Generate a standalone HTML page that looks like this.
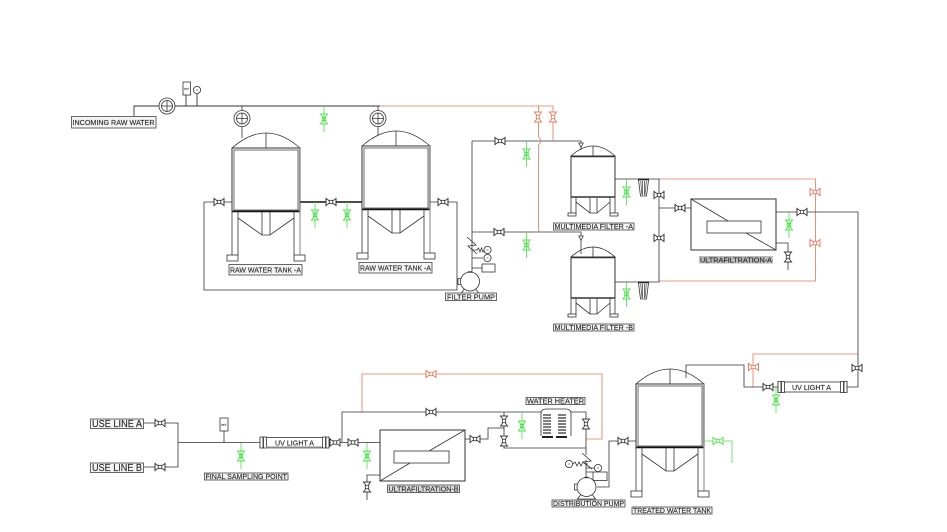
<!DOCTYPE html>
<html><head><meta charset="utf-8"><style>
html,body{margin:0;padding:0;background:#fff}
svg{display:block}
text{font-family:"Liberation Sans",sans-serif;font-size:7.6px;fill:#222;stroke:#444;stroke-width:.15}
.b{fill:#f4f4f4;stroke:#444;stroke-width:.8}
</style></head><body>
<svg width="947" height="532" viewBox="0 0 947 532" fill="none" stroke="#333" stroke-width=".8" xmlns="http://www.w3.org/2000/svg">
<defs>
<g id="v"><path d="M-5 -3.500L5 3.500V-3.500L-5 3.500Z" fill="#fff"/><path d="M-5 -4.200V4.200M5 -4.200V4.200"/><rect x="-1.700" y="-1.700" width="3.400" height="3.400" fill="#fff"/></g>
<g id="vv"><path d="M-3.500 -5L3.500 5H-3.500L3.500 -5Z" fill="#fff"/><path d="M-4.200 -5H4.200M-4.200 5H4.200"/><rect x="-1.700" y="-1.700" width="3.400" height="3.400" fill="#fff"/></g>
<g id="gv"><path d="M0 -13V13"/><path d="M-3.500 -5L3.500 5H-3.500L3.500 -5Z"/><path d="M-4.200 -5H4.200M-4.200 5H4.200"/><rect x="-1.800" y="-1.800" width="3.600" height="3.600"/></g>
<g id="fm"><circle r="8" fill="#fff"/><circle r="5.500"/><path d="M-5.500 0H5.500M0 -5.500V5.500"/></g>
<g id="tank">
<path d="M0 0Q34 -30 68 0"/><path d="M34 -15V0"/>
<rect x="0" y="0" width="68" height="63" fill="#fff" stroke-width="1"/>
<rect x="2" y="2" width="64" height="60" stroke-width=".7"/>
<path d="M67.500 0V63" stroke="#999" stroke-width="1.400"/>
<path d="M0 63.500H68" stroke-width="1.500" stroke="#111"/>
<path d="M0 63V107M6 63V107M62 63V107M68 63V107"/>
<path d="M68 63V107" stroke="#999" stroke-width="1.200"/>
<rect x="-5" y="107" width="11" height="6"/><rect x="62" y="107" width="11" height="6"/>
<path d="M6 70L30 87H38L62 70M30 64V87M38 64V87"/>
</g>
<g id="filter">
<path d="M0 0Q22 -20 44 0"/><path d="M22 -10V0"/>
<rect x="0" y="0" width="44" height="41" fill="#fff" stroke-width="1"/>
<path d="M0 .5H44M0 41H44" stroke-width="1.500"/>
<path d="M0 41V57M5 41V57M39 41V57M44 41V57"/>
<rect x="-3" y="57" width="8" height="3"/><rect x="39" y="57" width="8" height="3"/>
<path d="M5 46L19 57H26L39 46M19 42V57M26 42V57"/>
</g>
<g id="cart"><path d="M-5.500 1.500H5.500" stroke-width="2" stroke="#222"/><path d="M-5 2L-3 18H3L5 2Z" fill="#fff"/><path d="M-2.800 3L-1.500 17M-1 3V17M1 3V17M2.800 3L1.500 17" stroke="#555"/></g>
<g id="pump"><circle r="9.500" fill="#fff"/><path d="M-9.500 -3H-12V3H-9.500"/><path d="M-6 8L-9 12H9L6 8"/><path d="M-2 -9.500H2" stroke-width="1.400"/></g>
<g id="uv"><rect x="0" y="0" width="69" height="10" fill="#fff"/><rect x="0" y="-.5" width="3" height="11" fill="#fff"/><rect x="3.500" y="-.5" width="3" height="11" fill="#fff"/><rect x="62.500" y="-.5" width="3" height="11" fill="#fff"/><rect x="66" y="-.5" width="3" height="11" fill="#fff"/></g>
<g id="gauge"><circle r="3.600" fill="#fff"/><path d="M-1 0H1" stroke-width=".6"/></g>
</defs>

<!-- top incoming -->
<path d="M134 116V106H380M186 95V106M197 94V106" stroke-width=".9"/>
<path d="M242 106V138M378 106V135"/>
<rect x="183" y="82" width="7.500" height="13" fill="#fff"/>
<text x="184.300" y="90" style="font-size:3px">PIT</text>
<use href="#gauge" x="197" y="90"/>
<use href="#fm" x="167" y="106"/><use href="#fm" x="242" y="118.500"/><use href="#fm" x="378" y="118.500"/>
<rect class="b" x="71.500" y="116.500" width="84.500" height="11.500"/>
<text x="72.500" y="124.800" textLength="82" lengthAdjust="spacingAndGlyphs">INCOMING RAW WATER</text>

<!-- tanks -->
<path d="M204 202H232M204 202V290H457V202H430M472 141V272M472 141H581V150M472 232H581V254" />
<path d="M300 202H362" stroke-width="1.500" stroke="#111"/>
<path d="M578.800 143H583.200L581 147.500Z M578.800 236H583.200L581 240.500Z" fill="#fff"/>
<use href="#tank" x="232" y="148"/><use href="#tank" x="362" y="146"/>
<use href="#v" x="219" y="202"/><use href="#v" x="331" y="202"/><use href="#v" x="443" y="202"/>
<use href="#v" x="500" y="141"/><use href="#v" x="499" y="232"/>
<rect class="b" x="229" y="264.500" width="73" height="10.500"/>
<text x="230" y="272.500" textLength="71" lengthAdjust="spacingAndGlyphs">RAW WATER TANK -A</text>
<rect class="b" x="359" y="262.500" width="73" height="10.500"/>
<text x="360" y="270.500" textLength="71" lengthAdjust="spacingAndGlyphs">RAW WATER TANK -A</text>

<!-- filter pump -->
<path d="M467 237L476 245L468 246L477 254M472 250H477l1.500-2 1.500 4 1.500-4 1.500 4 1.500-2M472 258H483M472 268H482" />
<use href="#gauge" x="487.500" y="250"/><use href="#gauge" x="487.500" y="258"/>
<rect x="482" y="264" width="13" height="8" fill="#fff"/>
<use href="#pump" x="470" y="281.500"/>
<rect class="b" x="445.500" y="293" width="51" height="7.500"/>
<text x="447" y="299.500" textLength="48" lengthAdjust="spacingAndGlyphs">FILTER PUMP</text>

<!-- orange top -->
<g stroke="#e8765a">
<path d="M380 106H553V141M538.500 106V137Q543 141 538.500 145V232"/>
<use href="#v" transform="translate(538,117) rotate(90)"/>
<use href="#v" transform="translate(553,117) rotate(90)"/>
<path d="M659 179H815.500V281H659"/>
<use href="#v" x="815" y="192"/><use href="#v" x="815" y="243"/>
<path d="M362 412V374H602V439H586"/>
<use href="#v" x="431" y="374"/>
<path d="M753 387V354H858"/>
<use href="#v" x="753.500" y="367"/>
</g>

<!-- filters -->
<use href="#filter" x="571" y="156"/><use href="#filter" x="571" y="257"/>
<path d="M615 179H659V282H615M659 208H691"/>
<use href="#cart" x="643.500" y="178"/><use href="#cart" x="643.500" y="281"/>
<use href="#v" x="659" y="195"/><use href="#v" x="659" y="238"/><use href="#v" x="680" y="208"/>
<rect class="b" x="553.500" y="223" width="80.500" height="7"/>
<text x="554.500" y="229.200" textLength="78.500" lengthAdjust="spacingAndGlyphs">MULTIMEDIA FILTER -A</text>
<rect class="b" x="553.500" y="324" width="80.500" height="7"/>
<text x="554.500" y="330.200" textLength="78.500" lengthAdjust="spacingAndGlyphs">MULTIMEDIA FILTER -B</text>

<!-- UF A -->
<rect x="691" y="199" width="85" height="51" stroke-width="1" fill="#fff"/>
<rect x="707" y="221" width="54" height="12" fill="#fff"/>
<path d="M691 199L728 221M746 233L776 250M776 212H858V387H847M776 243H788V270"/>
<use href="#v" x="802" y="212"/><use href="#vv" x="788" y="257"/>
<rect x="699" y="256" width="74" height="7.500" fill="#bbb" stroke="none"/>
<text x="700" y="262.700" textLength="72" lengthAdjust="spacingAndGlyphs">ULTRAFILTRATION-A</text>

<!-- right lower -->
<path d="M686 378V365H744V387H778"/>
<use href="#v" x="857" y="368"/><use href="#v" x="768" y="387"/>
<use href="#uv" x="778" y="382"/>
<text x="792" y="389.800" textLength="39" lengthAdjust="spacingAndGlyphs">UV LIGHT A</text>

<!-- treated tank -->
<use href="#tank" x="636" y="384"/>
<rect class="b" x="632" y="507" width="80" height="7"/>
<text x="633" y="513.200" textLength="78" lengthAdjust="spacingAndGlyphs">TREATED WATER TANK</text>
<path d="M597 487H609V441H636"/>
<use href="#v" x="623" y="441"/>

<!-- use lines -->
<path d="M143 423H178V467H143M178 442.500H260M224 431V442.500M328 442.500H380M342 442V412H586V455M380 475H367V500M465 439H488V428H504M504 412V448H586"/>
<rect class="b" x="90.500" y="419" width="53" height="9.500"/>
<text x="92" y="427" textLength="50" lengthAdjust="spacingAndGlyphs" style="font-size:10px">USE LINE A</text>
<rect class="b" x="90.500" y="463" width="53" height="9.500"/>
<text x="92" y="471" textLength="50" lengthAdjust="spacingAndGlyphs" style="font-size:10px">USE LINE B</text>
<use href="#v" x="160" y="423"/><use href="#v" x="160" y="467"/>
<rect x="220" y="418" width="8" height="13" fill="#fff"/>
<text x="221.500" y="426" style="font-size:3px">PIT</text>
<use href="#uv" x="260" y="437.500"/>
<path d="M266 447.500H322" stroke="#888" stroke-width="2"/>
<text x="275" y="445.300" textLength="39" lengthAdjust="spacingAndGlyphs">UV LIGHT A</text>
<use href="#v" x="335" y="442.500"/><use href="#v" x="353" y="442.500"/>
<rect class="b" x="204.500" y="473" width="83.500" height="7"/>
<text x="205.500" y="479.200" textLength="81.500" lengthAdjust="spacingAndGlyphs">FINAL SAMPLING POINT</text>

<!-- UF B -->
<rect x="380" y="430" width="85" height="51" stroke-width="1" fill="#fff"/>
<rect x="394" y="451" width="55" height="12" fill="#fff"/>
<path d="M465 430L429 451M410 463L380 481"/>
<use href="#v" x="475" y="439"/><use href="#vv" x="367" y="487"/>
<use href="#v" x="431" y="412"/>
<use href="#vv" x="504" y="421"/><use href="#vv" x="504" y="441"/><use href="#vv" x="586" y="424"/>
<rect class="b" x="387.500" y="485" width="72" height="7.500" style="fill:#ddd"/>
<text x="388.500" y="491.700" textLength="70" lengthAdjust="spacingAndGlyphs">ULTRAFILTRATION-B</text>

<!-- heater -->
<path d="M541 414Q541 409 546 409H566Q571 409 571 414V436M541 414V436" fill="#fff"/>
<g stroke="#333" stroke-width="1.300">
<path d="M543 415H551M543 418H551M543 421H551M543 424H551M543 427H551M543 430H551M543 433H551"/>
<path d="M558 415H566M558 418H566M558 421H566M558 424H566M558 427H566M558 430H566M558 433H566"/>
</g>
<path d="M542 437H553M556 437H567" stroke-width="2" stroke="#222"/>
<rect class="b" x="526" y="397.500" width="59" height="7"/>
<text x="527" y="403.700" textLength="57" lengthAdjust="spacingAndGlyphs">WATER HEATER</text>

<!-- distribution pump -->
<path d="M582 453L591 461L583 462L592 469M586 460V478M573 464l2-2 2 4 2-4 2 4 2-4 2 2h3M586 468H595M586 472H593"/>
<use href="#gauge" x="569" y="464"/><use href="#gauge" x="598" y="468"/>
<rect x="593" y="472" width="14" height="8.500" fill="#fff"/>
<use href="#pump" x="586.500" y="487"/>
<rect class="b" x="552" y="500" width="73" height="7"/>
<text x="553" y="506.200" textLength="71" lengthAdjust="spacingAndGlyphs">DISTRIBUTION PUMP</text>

<!-- green -->
<g stroke="#4ee04e">
<use href="#gv" x="324" y="119"/><use href="#gv" x="315" y="215"/><use href="#gv" x="347" y="215"/>
<use href="#gv" x="526.500" y="154"/><use href="#gv" x="526.500" y="245"/>
<use href="#gv" x="626.500" y="192"/><use href="#gv" x="626.500" y="294"/>
<use href="#gv" x="789" y="225"/><use href="#gv" x="776" y="400"/>
<use href="#gv" x="241" y="456"/><use href="#gv" x="367" y="456"/><use href="#gv" x="522" y="426"/>
<path d="M704 441H732V463"/>
<use href="#v" x="718" y="441"/>
</g>
</svg>
</body></html>
